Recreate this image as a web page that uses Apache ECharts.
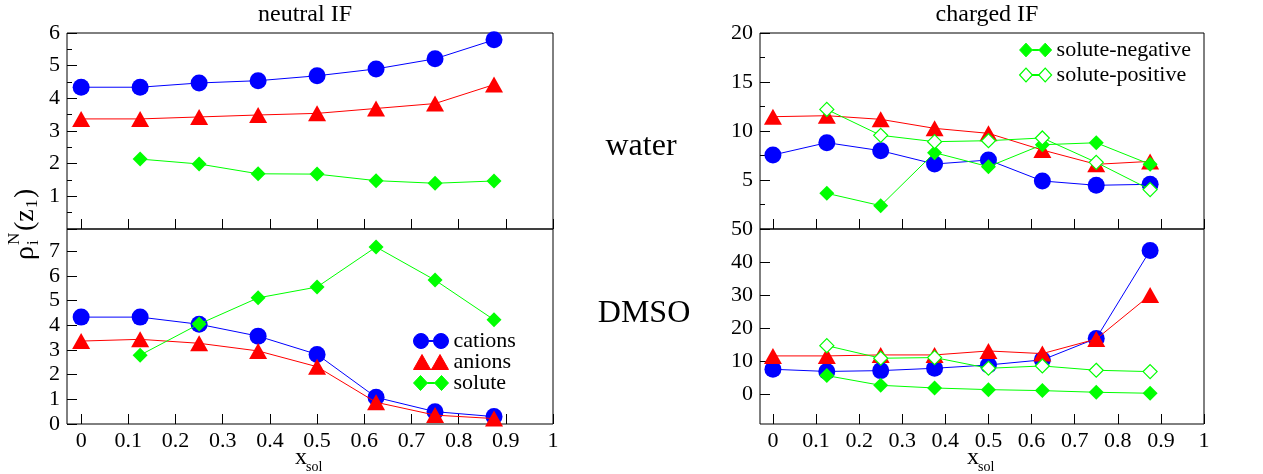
<!DOCTYPE html>
<html>
<head>
<meta charset="utf-8">
<script src="https://cdn.jsdelivr.net/npm/echarts@6/dist/echarts.min.js"></script>
<style>
  html, body { margin: 0; padding: 0; background: #fff; }
  #chart { width: 1263px; height: 474px; }
</style>
</head>
<body>
<div id="chart"></div>
<script>
// solute mole fraction (x axis)
const xSol = [0, 0.125, 0.25, 0.375, 0.5, 0.625, 0.75, 0.875];
const xTicks = [0, 0.1, 0.2, 0.3, 0.4, 0.5, 0.6, 0.7, 0.8, 0.9, 1];

// neutral IF, water
const nwCations = [4.34, 4.34, 4.47, 4.54, 4.69, 4.90, 5.21, 5.79];
const nwAnions  = [3.37, 3.37, 3.43, 3.49, 3.54, 3.69, 3.84, 4.42];
const nwSolute  = [null, 2.14, 1.99, 1.69, 1.68, 1.48, 1.40, 1.47];

// neutral IF, DMSO
const ndCations = [4.33, 4.33, 4.04, 3.56, 2.82, 1.08, 0.50, 0.30];
const ndAnions  = [3.36, 3.43, 3.27, 2.96, 2.32, 0.88, 0.36, 0.22];
const ndSolute  = [null, 2.79, 4.05, 5.11, 5.55, 7.17, 5.83, 4.22];

// charged IF, water
const cwCations   = [7.55, 8.81, 7.99, 6.63, 7.04, 4.90, 4.46, 4.56];
const cwAnions    = [11.46, 11.56, 11.19, 10.27, 9.76, 8.06, 6.60, 6.90];
const cwSoluteNeg = [null, 3.64, 2.38, 7.79, 6.36, 8.60, 8.80, 6.60];
const cwSolutePos = [null, 12.2, 9.56, 8.91, 9.01, 9.29, 6.80, 4.02];

// charged IF, DMSO
const cdCations   = [7.56, 6.9, 7.15, 7.86, 8.87, 10.4, 16.9, 43.5];
const cdAnions    = [11.6, 11.6, 11.9, 11.9, 13.1, 12.3, 16.7, 30.0];
const cdSoluteNeg = [null, 5.64, 2.71, 1.9, 1.4, 1.1, 0.6, 0.3];
const cdSolutePos = [null, 14.7, 10.9, 11.1, 7.86, 8.56, 7.26, 6.85];

// tick labels
const yTicksBL = [0, 1, 2, 3, 4, 5, 6, 7];
const yTicksBR = [0, 10, 20, 30, 40, 50];

const BLUE = '#0000ff', RED = '#ff0000', GREEN = '#00ff00';
const FONT = 'Liberation Serif';

function pairs(ys) {
  const out = [];
  ys.forEach((y, i) => { if (y !== null) out.push([xSol[i], y]); });
  return out;
}

// legend icons: two markers joined by a short line
const ICON_CIRCLE = 'path://M0,7.5 A7.5,7.5 0 1,0 15,7.5 A7.5,7.5 0 1,0 0,7.5 Z M15,7 L20,7 L20,8 L15,8 Z M20,7.5 A7.5,7.5 0 1,0 35,7.5 A7.5,7.5 0 1,0 20,7.5 Z';
const ICON_TRI = 'path://M0,15 L8.5,0 L17,15 Z M17,14.5 L18,14.5 L18,15 L17,15 Z M18,15 L26.5,0 L35,15 Z';
const ICON_DIA = 'path://M0,7.5 L7,0 L14,7.5 L7,15 Z M14,7 L21,7 L21,8 L14,8 Z M21,7.5 L28,0 L35,7.5 L28,15 Z';

function mkSeries(name, data, grid, kind) {
  const s = {
    name: name, type: 'line',
    xAxisIndex: grid, yAxisIndex: grid,
    data: pairs(data),
    showAllSymbol: true,
    lineStyle: { width: 1 }
  };
  if (kind === 'cat') {
    s.symbol = 'circle'; s.symbolSize = 17;
    s.itemStyle = { color: BLUE }; s.lineStyle.color = BLUE; s.z = 2;
  } else if (kind === 'an') {
    s.symbol = 'triangle'; s.symbolSize = [18, 16];
    s.itemStyle = { color: RED }; s.lineStyle.color = RED; s.z = 3;
  } else if (kind === 'sol') {
    s.symbol = 'diamond'; s.symbolSize = 15;
    s.itemStyle = { color: GREEN }; s.lineStyle.color = GREEN; s.z = 4;
  } else {
    s.symbol = 'diamond'; s.symbolSize = 14;
    s.itemStyle = { color: '#ffffff', borderColor: GREEN, borderWidth: 1.2 };
    s.lineStyle.color = GREEN; s.z = 5;
  }
  return s;
}

const grids = [
  { left: 67, top: 33, width: 486, height: 196 },
  { left: 67, top: 229, width: 486, height: 195 },
  { left: 760, top: 33, width: 444, height: 196 },
  { left: 760, top: 229, width: 444, height: 195 }
].map(g => Object.assign(g, { show: true, borderColor: '#000', borderWidth: 1, outerBoundsMode: 'none' }));

const labelStyle = { fontFamily: FONT, fontSize: 22, color: '#000' };
const tickStyle = { color: '#000', width: 1 };

function mkX(grid, bottom) {
  return {
    type: 'value', gridIndex: grid, min: -0.03, max: 1,
    axisLine: { show: false, onZero: false },
    splitLine: { show: false },
    axisTick: { show: true, inside: true, length: 10, customValues: xTicks, lineStyle: tickStyle },
    axisLabel: Object.assign({ show: bottom, margin: 6, customValues: xTicks,
      formatter: v => String(Math.round(v * 10) / 10) }, labelStyle)
  };
}

function mkY(grid, opts) {
  const ax = {
    type: 'value', gridIndex: grid, min: opts.min, max: opts.max,
    axisLine: { show: false, onZero: false },
    splitLine: { show: false },
    axisTick: { show: true, inside: true, length: 10, lineStyle: tickStyle },
    axisLabel: Object.assign({ margin: 7 }, labelStyle)
  };
  if (opts.interval) {
    ax.interval = opts.interval;
    ax.minorTick = { show: true, splitNumber: 2, length: 5, lineStyle: tickStyle };
    ax.axisLabel.formatter = v => (v === 0 ? '' : String(v));
  } else {
    ax.axisTick.customValues = opts.ticks;
    ax.axisLabel.customValues = opts.ticks;
  }
  return ax;
}

const legendText = { fontFamily: FONT, fontSize: 22, color: '#000' };
const titleText = (size) => ({ fontFamily: FONT, fontSize: size, fontWeight: 'normal', color: '#000' });

function txt(x, y, text, size) {
  return { type: 'text', x: x, y: y,
    style: { text: text, font: size + 'px "Liberation Serif"', fill: '#000', verticalAlign: 'middle' } };
}

const option = {
  animation: false,
  backgroundColor: '#fff',
  grid: grids,
  xAxis: [mkX(0, false), mkX(1, true), mkX(2, false), mkX(3, true)],
  yAxis: [
    mkY(0, { min: 0, max: 6, interval: 1 }),
    mkY(1, { min: 0, max: 7.9, ticks: yTicksBL }),
    mkY(2, { min: 0, max: 20, interval: 5 }),
    mkY(3, { min: -9, max: 50, ticks: yTicksBR })
  ],
  legend: [
    {
      orient: 'vertical', left: 413, top: 330, padding: 0, itemWidth: 35, itemHeight: 15, itemGap: -1,
      selectedMode: false, textStyle: legendText,
      data: [
        { name: 'cations', icon: ICON_CIRCLE, itemStyle: { color: BLUE, borderColor: BLUE, borderWidth: 1 } },
        { name: 'anions', icon: ICON_TRI, itemStyle: { color: RED, borderColor: RED, borderWidth: 1 } },
        { name: 'solute', icon: ICON_DIA, itemStyle: { color: GREEN, borderColor: GREEN, borderWidth: 1 } }
      ]
    },
    {
      orient: 'vertical', left: 1019, top: 39, padding: 0, itemWidth: 32, itemHeight: 14, itemGap: 3,
      selectedMode: false, textStyle: legendText,
      data: [
        { name: 'solute-negative', icon: ICON_DIA, itemStyle: { color: GREEN, borderColor: GREEN, borderWidth: 1 } },
        { name: 'solute-positive', icon: ICON_DIA, itemStyle: { color: '#ffffff', borderColor: GREEN, borderWidth: 1.2 } }
      ]
    }
  ],
  title: [
    { text: 'neutral IF', left: 305, top: 3, padding: 0, textAlign: 'center', textStyle: titleText(24) },
    { text: 'charged IF', left: 987, top: 3, padding: 0, textAlign: 'center', textStyle: titleText(24) },
    { text: 'water', left: 641, top: 131, padding: 0, textAlign: 'center', textStyle: titleText(32) },
    { text: 'DMSO', left: 644, top: 298, padding: 0, textAlign: 'center', textStyle: titleText(32) }
  ],
  graphic: [
    {
      type: 'group', x: 26, y: 260, rotation: Math.PI / 2,
      children: [
        txt(0, 0, 'ρ', 28), txt(15, -11, 'N', 17), txt(15, 8, 'i', 17),
        txt(29, 0, '(z', 28), txt(52, 7, '1', 17), txt(62, 0, ')', 28)
      ]
    },
    { type: 'group', x: 295, y: 0, children: [txt(0, 458, 'x', 24), txt(11, 467, 'sol', 14)] },
    { type: 'group', x: 967, y: 0, children: [txt(0, 458, 'x', 24), txt(11, 467, 'sol', 14)] }
  ],
  series: [
    mkSeries('cations', nwCations, 0, 'cat'),
    mkSeries('anions', nwAnions, 0, 'an'),
    mkSeries('solute', nwSolute, 0, 'sol'),
    mkSeries('cations', ndCations, 1, 'cat'),
    mkSeries('anions', ndAnions, 1, 'an'),
    mkSeries('solute', ndSolute, 1, 'sol'),
    mkSeries('cations', cwCations, 2, 'cat'),
    mkSeries('anions', cwAnions, 2, 'an'),
    mkSeries('solute-negative', cwSoluteNeg, 2, 'sol'),
    mkSeries('solute-positive', cwSolutePos, 2, 'pos'),
    mkSeries('cations', cdCations, 3, 'cat'),
    mkSeries('anions', cdAnions, 3, 'an'),
    mkSeries('solute-negative', cdSoluteNeg, 3, 'sol'),
    mkSeries('solute-positive', cdSolutePos, 3, 'pos')
  ]
};

const chart = echarts.init(document.getElementById('chart'));
chart.setOption(option);
</script>
</body>
</html>
